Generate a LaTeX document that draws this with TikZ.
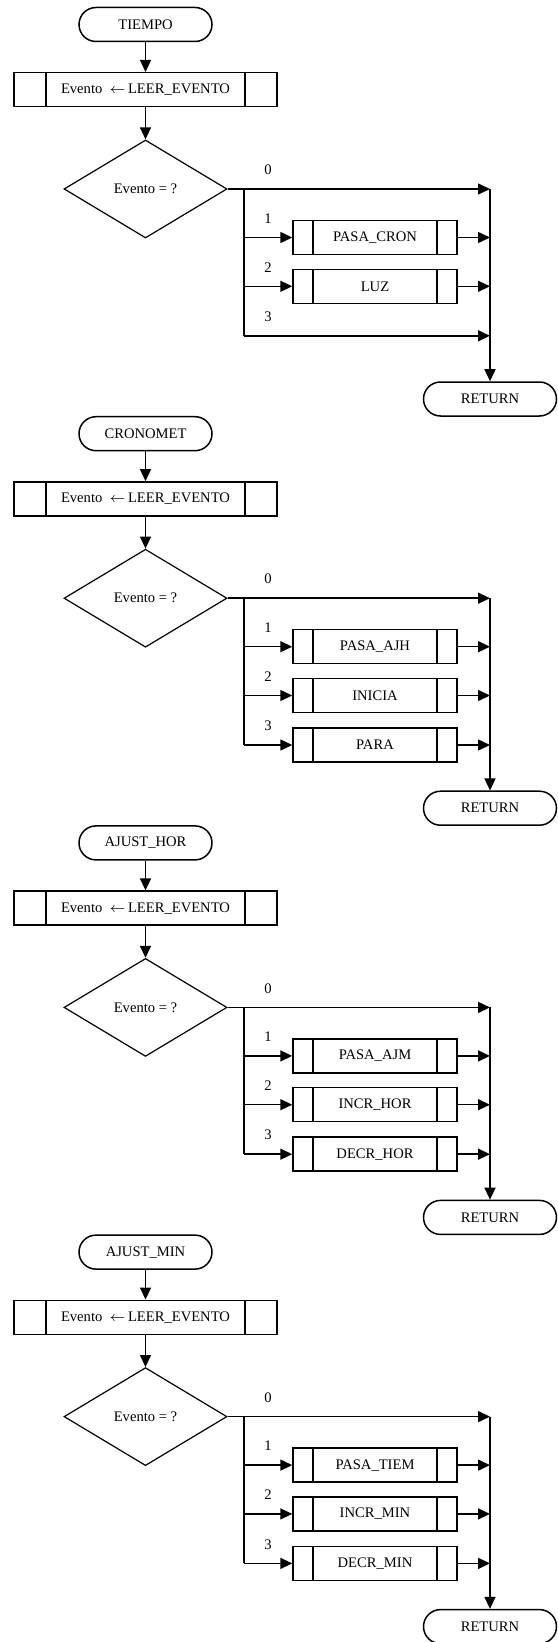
\documentclass[tikz,border=0pt]{standalone}
\usepackage{fontspec}
\setmainfont{Liberation Serif}
\usetikzlibrary{shapes.geometric, arrows.meta, positioning, calc}
\tikzset{
	terminal/.style ={rectangle, rounded corners=8.5pt, minimum width=66.5pt, minimum height=17pt, inner sep=1pt, align=center, draw=black, line width=0.75pt},
	subrut/.style   ={rectangle, minimum height=17pt, inner sep=1pt, align=center, draw=black, line width=0.75pt,
		path picture={\draw[line width=0.75pt] ([xshift=#1]path picture bounding box.north west) -- ([xshift=#1]path picture bounding box.south west)
			([xshift=-#1]path picture bounding box.north east) -- ([xshift=-#1]path picture bounding box.south east);}},
	subrut/.default=10pt,
	leer/.style     ={subrut=16pt, minimum width=131.5pt},
	caso/.style     ={subrut=10pt, minimum width=82pt},
	decision/.style ={diamond, aspect=1.66, minimum width=81.5pt, minimum height=49pt, inner sep=0pt, draw=black, line width=0.6pt},
	flecha/.style   ={-{Triangle[length=6pt, width=5.5pt]}, line width=0.75pt},
	linea/.style    ={line width=0.75pt},
	etiq/.style     ={inner sep=0pt},
}
\begin{document}
\begin{tikzpicture}[x=0.5pt, y=-0.5pt, font=\fontsize{7.3}{8.5}\selectfont]
	\useasboundingbox (0,0) rectangle (557,1642);
	% the four routines, one under the other
	\foreach \nom [count=\k from 0] in {TIEMPO, CRONOMET, AJUST\_HOR, AJUST\_MIN}{
		\begin{scope}[shift={(0,\k*409.2)}]
			\node[terminal] (ini\k) at (145.5,24.5) {\nom};
			\node[leer] (lee\k) at (145.5,89.7) {Evento~ $\leftarrow$\,LEER\_EVENTO};
			\node[decision] (dec\k) at (145.5,189) {Evento = ?};
			\node[terminal] (ret\k) at (490,399) {RETURN};
			\coordinate (tr\k) at (244,189);
			\coordinate (fin\k) at (244,335.8);
			\coordinate (col\k) at (490,189);
			\draw[flecha] (ini\k) -- (lee\k);
			\draw[flecha] (lee\k) -- (dec\k);
			\draw[flecha] (dec\k.east) -- (col\k);
			\draw[linea] (tr\k) -- (fin\k);
			\draw[flecha] (col\k) -- (ret\k);
			\foreach \n/\yy in {0/189, 1/237.5, 2/286.3, 3/335.8}
				\node[etiq] (num\k\n) at (268,\yy-19) {\n};
		\end{scope}
	}
	% called subroutines of every case
	\foreach \k/\n/\yy/\nom in {0/1/237.5/PASA\_CRON, 0/2/286.3/LUZ,
		1/1/237.5/PASA\_AJH, 1/2/286.3/INICIA, 1/3/335.8/PARA,
		2/1/237.5/PASA\_AJM, 2/2/286.3/INCR\_HOR, 2/3/335.8/DECR\_HOR,
		3/1/237.5/PASA\_TIEM, 3/2/286.3/INCR\_MIN, 3/3/335.8/DECR\_MIN}{
		\begin{scope}[shift={(0,\k*409.2)}]
			\node[caso] (sub\k\n) at (375,\yy) {\nom};
			\coordinate (ra\k\n) at (244,\yy);
			\coordinate (rb\k\n) at (490,\yy);
			\draw[flecha] (ra\k\n) -- (sub\k\n);
			\draw[flecha] (sub\k\n) -- (rb\k\n);
		\end{scope}
	}
	% TIEMPO, case 3 goes straight to the end
	\coordinate (rb03) at (490,335.8);
	\draw[flecha] (fin0) -- (rb03);
\end{tikzpicture}
\end{document}
